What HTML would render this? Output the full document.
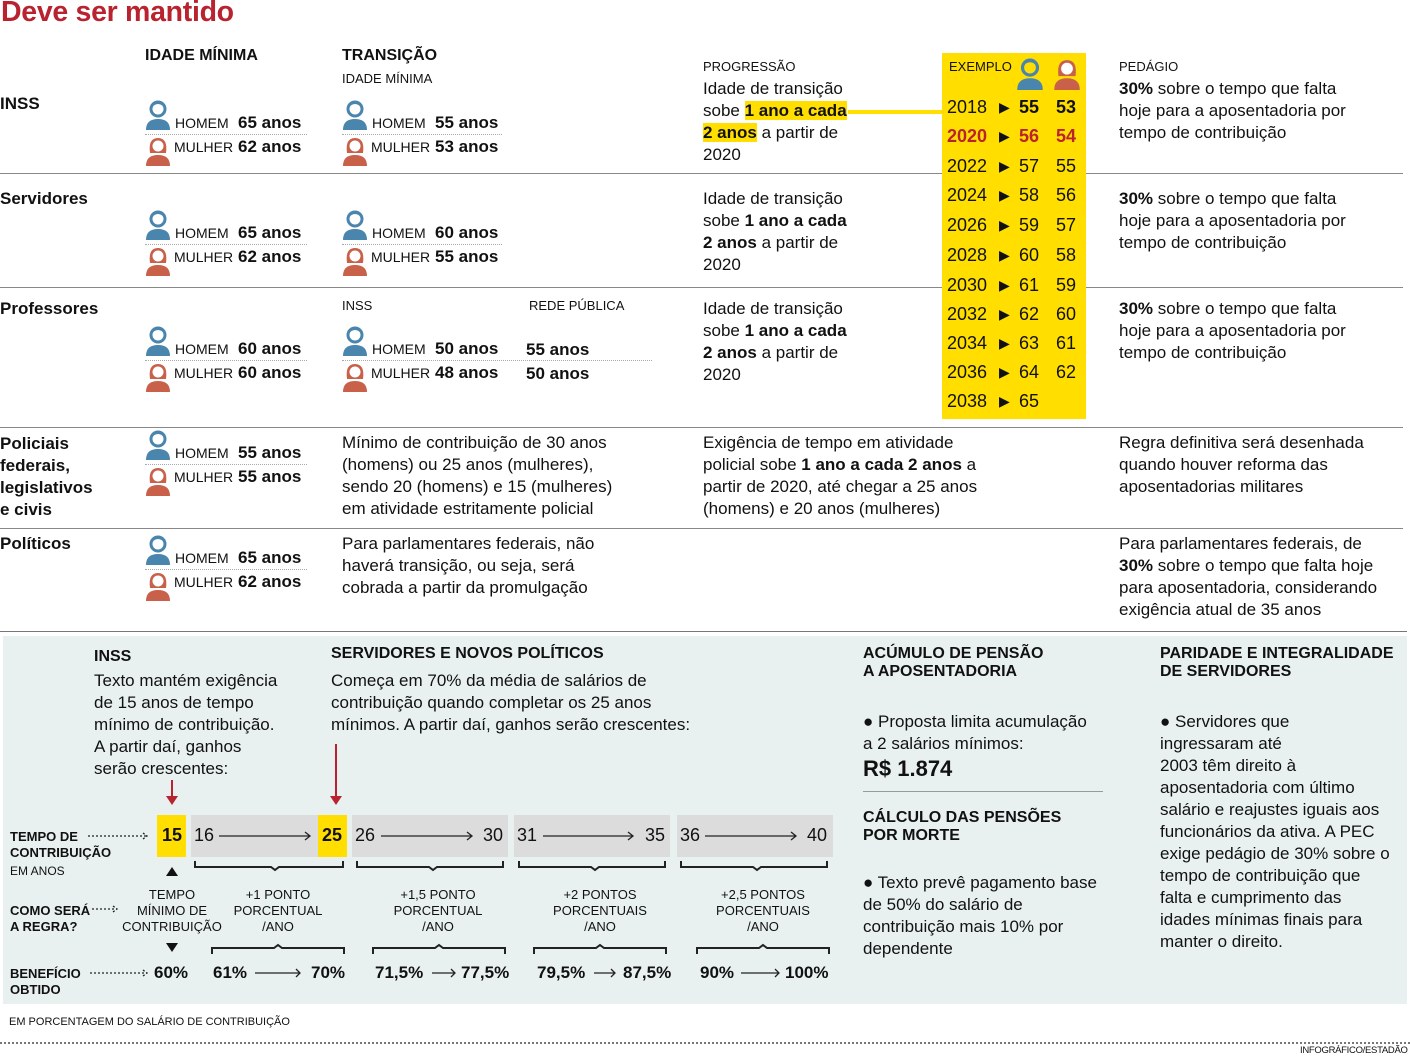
<!DOCTYPE html>
<html><head><meta charset="utf-8"><style>
*{margin:0;padding:0;box-sizing:border-box}
body{width:1410px;height:1056px;position:relative;background:#fff;font-family:"Liberation Sans",sans-serif;color:#111;overflow:hidden}
.a{position:absolute;white-space:nowrap}
.t{font-size:17px;line-height:22px}
.h{font-weight:bold;font-size:16px}
.s{font-size:13px}
.lab{font-size:14px}
.v{font-size:17px;font-weight:bold}
.hr{position:absolute;height:1px;background:#888}
.dot{position:absolute;height:0;border-top:1px dotted #aaa}
.yl{background:#ffde00}
.yr{position:absolute;font-size:18px;line-height:20px}
.box{position:absolute;background:#dcdcdc;height:42px;top:815px}
.c{text-align:center}
</style></head><body>
<svg width="0" height="0" style="position:absolute"><defs>
<symbol id="m" viewBox="0 0 26 30"><circle cx="13" cy="9" r="7" fill="none" stroke="#4a85ad" stroke-width="3"/><path d="M7 7 Q13 1 19 7 L19 4 Q13 -1 7 4Z" fill="#4a85ad"/><path d="M1 30 Q1 19 13 19 Q25 19 25 30Z" fill="#4a85ad"/></symbol>
<symbol id="w" viewBox="0 0 26 30"><path d="M5 17 Q3 2 13 2 Q23 2 21 17Z" fill="#c9604a"/><circle cx="13" cy="10" r="5.5" fill="#fff"/><path d="M1 30 Q1 19 13 19 Q25 19 25 30Z" fill="#c9604a"/></symbol>
</defs></svg>

<div class="a" style="left:1px;top:-4px;font-size:28.5px;font-weight:bold;color:#b8232f;letter-spacing:-0.3px">Deve ser mantido</div>

<div class="a h" style="left:145px;top:47px">IDADE MÍNIMA</div>
<div class="a h" style="left:342px;top:47px">TRANSIÇÃO</div>
<div class="a s" style="left:342px;top:71px">IDADE MÍNIMA</div>
<div class="a s" style="left:703px;top:59px">PROGRESSÃO</div>
<div class="a s" style="left:1119px;top:59px">PEDÁGIO</div>

<div class="a v" style="left:0;top:94px">INSS</div>
<div class="a v" style="left:0;top:189px">Servidores</div>
<div class="a v" style="left:0;top:299px">Professores</div>
<div class="a v" style="left:0;top:433px;line-height:22px">Policiais<br>federais,<br>legislativos<br>e civis</div>
<div class="a v" style="left:0;top:534px">Políticos</div>

<div class="hr" style="left:0;top:173px;width:1403px"></div>
<div class="hr" style="left:0;top:287px;width:1403px"></div>
<div class="hr" style="left:0;top:427px;width:1403px"></div>
<div class="hr" style="left:0;top:528px;width:1403px"></div>
<div class="hr" style="left:0;top:631px;width:1407px;background:#777"></div>

<div id="rows"></div>

<div class="a t" style="left:703px;top:78px">Idade de transição<br>sobe <span class="yl"><b>1 ano a cada</b></span><br><span class="yl"><b>2 anos</b></span> a partir de<br>2020</div>
<div class="a yl" style="left:848px;top:110px;width:96px;height:4px"></div>
<div class="a t" style="left:703px;top:188px">Idade de transição<br>sobe <b>1 ano a cada</b><br><b>2 anos</b> a partir de<br>2020</div>
<div class="a t" style="left:703px;top:298px">Idade de transição<br>sobe <b>1 ano a cada</b><br><b>2 anos</b> a partir de<br>2020</div>

<div class="a t" style="left:1119px;top:78px"><b>30%</b> sobre o tempo que falta<br>hoje para a aposentadoria por<br>tempo de contribuição</div>
<div class="a t" style="left:1119px;top:188px"><b>30%</b> sobre o tempo que falta<br>hoje para a aposentadoria por<br>tempo de contribuição</div>
<div class="a t" style="left:1119px;top:298px"><b>30%</b> sobre o tempo que falta<br>hoje para a aposentadoria por<br>tempo de contribuição</div>

<div class="a yl" style="left:942px;top:53px;width:144px;height:366px"></div>
<div class="a s" style="left:949px;top:59px">EXEMPLO</div>
<svg class="a" style="left:1016px;top:58px" width="28" height="32"><use href="#m"/></svg>
<svg class="a" style="left:1053px;top:58px" width="28" height="32"><use href="#w"/></svg>
<div id="yt"></div>

<div class="a s" style="left:342px;top:298px">INSS</div>
<div class="a s" style="left:529px;top:298px">REDE PÚBLICA</div>
<div class="a v" style="left:526px;top:340px">55 anos</div>
<div class="a v" style="left:526px;top:364px">50 anos</div>

<div class="a t" style="left:342px;top:432px">Mínimo de contribuição de 30 anos<br>(homens) ou 25 anos (mulheres),<br>sendo 20 (homens) e 15 (mulheres)<br>em atividade estritamente policial</div>
<div class="a t" style="left:703px;top:432px">Exigência de tempo em atividade<br>policial sobe <b>1 ano a cada 2 anos</b> a<br>partir de 2020, até chegar a 25 anos<br>(homens) e 20 anos (mulheres)</div>
<div class="a t" style="left:1119px;top:432px">Regra definitiva será desenhada<br>quando houver reforma das<br>aposentadorias militares</div>
<div class="a t" style="left:342px;top:533px">Para parlamentares federais, não<br>haverá transição, ou seja, será<br>cobrada a partir da promulgação</div>
<div class="a t" style="left:1119px;top:533px">Para parlamentares federais, de<br><b>30%</b> sobre o tempo que falta hoje<br>para aposentadoria, considerando<br>exigência atual de 35 anos</div>

<div class="a" style="left:3px;top:636px;width:1404px;height:368px;background:#e9f1f0"></div>
<div class="a h" style="left:94px;top:648px">INSS</div>
<div class="a t" style="left:94px;top:670px">Texto mantém exigência<br>de 15 anos de tempo<br>mínimo de contribuição.<br>A partir daí, ganhos<br>serão crescentes:</div>
<div class="a h" style="left:331px;top:645px">SERVIDORES E NOVOS POLÍTICOS</div>
<div class="a t" style="left:331px;top:670px">Começa em 70% da média de salários de<br>contribuição quando completar os 25 anos<br>mínimos. A partir daí, ganhos serão crescentes:</div>
<div class="a" style="left:171px;top:780px;width:2px;height:18px;background:#b8232f"></div>
<div class="a" style="left:166px;top:796px;border:6px solid transparent;border-top:9px solid #b8232f"></div>
<div class="a" style="left:335px;top:744px;width:2px;height:54px;background:#b8232f"></div>
<div class="a" style="left:330px;top:796px;border:6px solid transparent;border-top:9px solid #b8232f"></div>

<div class="a" style="left:157px;top:815px;width:29px;height:42px;background:#ffde00"></div>
<div class="box" style="left:191px;width:155px"></div>
<div class="a" style="left:318px;top:815px;width:29px;height:42px;background:#ffde00"></div>
<div class="box" style="left:352px;width:156px"></div>
<div class="box" style="left:514px;width:156px"></div>
<div class="box" style="left:677px;width:156px"></div>
<div class="a" style="left:162px;top:825px;font-size:18px;font-weight:bold">15</div>
<div class="a" style="left:322px;top:825px;font-size:18px;font-weight:bold">25</div>
<div class="a" style="left:194px;top:825px;font-size:18px">16</div>
<div class="a" style="left:355px;top:825px;font-size:18px">26</div><div class="a" style="left:483px;top:825px;font-size:18px">30</div>
<div class="a" style="left:517px;top:825px;font-size:18px">31</div><div class="a" style="left:645px;top:825px;font-size:18px">35</div>
<div class="a" style="left:680px;top:825px;font-size:18px">36</div><div class="a" style="left:807px;top:825px;font-size:18px">40</div>

<svg class="a" style="left:0;top:800px" width="860" height="200" fill="none" stroke="#222" stroke-width="1.3">
<path d="M219 36H310M305 32L310 36L305 40M381 36H472M467 32L472 36L467 40M543 36H633M628 32L633 36L628 40M705 36H796M791 32L796 36L791 40"/>
<path d="M88 36H147M143 33L147 36L143 39M92 109H117M113 106L117 109L113 112M90 173H147M143 170L147 173L143 176" stroke-dasharray="2 2"/>
<path d="M255 173H300M296 169L300 173L296 177M432 173H455M451 169L455 173L451 177M594 173H615M611 169L615 173L611 177M741 173H779M775 169L779 173L775 177"/>
<g stroke-width="2"><path d="M195 61v6h76l4 3l4-3h64v-6M357 61v6h72l4 3l4-3h66v-6M519 61v6h72l4 3l4-3h66v-6M681 61v6h72l4 3l4-3h66v-6"/>
<path d="M212 154v-6h62l4-3l4 3h62v6M373 154v-6h62l4-3l4 3h62v6M534 154v-6h62l4-3l4 3h62v6M697 154v-6h62l4-3l4 3h62v6"/></g>
<path d="M166 76l6-9l6 9ZM166 143l6 9l6-9Z" fill="#111" stroke="none"/>
</svg>
<div class="a" style="left:10px;top:829px;font-size:13px;font-weight:bold;line-height:16px">TEMPO DE<br>CONTRIBUIÇÃO</div>
<div class="a" style="left:10px;top:864px;font-size:12px">EM ANOS</div>
<div class="a" style="left:10px;top:903px;font-size:13px;font-weight:bold;line-height:16px">COMO SERÁ<br>A REGRA?</div>
<div class="a" style="left:10px;top:966px;font-size:13px;font-weight:bold;line-height:16px">BENEFÍCIO<br>OBTIDO</div>
<div class="a c" style="left:112px;top:887px;width:120px;font-size:13px;line-height:16px">TEMPO<br>MÍNIMO DE<br>CONTRIBUIÇÃO</div>
<div class="a c" style="left:218px;top:887px;width:120px;font-size:13px;line-height:16px">+1 PONTO<br>PORCENTUAL<br>/ANO</div>
<div class="a c" style="left:378px;top:887px;width:120px;font-size:13px;line-height:16px">+1,5 PONTO<br>PORCENTUAL<br>/ANO</div>
<div class="a c" style="left:540px;top:887px;width:120px;font-size:13px;line-height:16px">+2 PONTOS<br>PORCENTUAIS<br>/ANO</div>
<div class="a c" style="left:703px;top:887px;width:120px;font-size:13px;line-height:16px">+2,5 PONTOS<br>PORCENTUAIS<br>/ANO</div>
<div class="a v" style="left:154px;top:963px">60%</div>
<div class="a v" style="left:213px;top:963px">61%</div><div class="a v" style="left:311px;top:963px">70%</div>
<div class="a v" style="left:375px;top:963px">71,5%</div><div class="a v" style="left:461px;top:963px">77,5%</div>
<div class="a v" style="left:537px;top:963px">79,5%</div><div class="a v" style="left:623px;top:963px">87,5%</div>
<div class="a v" style="left:700px;top:963px">90%</div><div class="a v" style="left:785px;top:963px">100%</div>

<div class="a h" style="left:863px;top:645px;line-height:18px">ACÚMULO DE PENSÃO<br>A APOSENTADORIA</div>
<div class="a t" style="left:863px;top:711px">● Proposta limita acumulação<br>a 2 salários mínimos:</div>
<div class="a" style="left:863px;top:756px;font-size:22px;font-weight:bold">R$ 1.874</div>
<div class="a" style="left:863px;top:791px;width:240px;height:1px;background:#999"></div>
<div class="a h" style="left:863px;top:809px;line-height:18px">CÁLCULO DAS PENSÕES<br>POR MORTE</div>
<div class="a t" style="left:863px;top:872px">● Texto prevê pagamento base<br>de 50% do salário de<br>contribuição mais 10% por<br>dependente</div>
<div class="a h" style="left:1160px;top:645px;line-height:18px">PARIDADE E INTEGRALIDADE<br>DE SERVIDORES</div>
<div class="a t" style="left:1160px;top:711px">● Servidores que<br>ingressaram até<br>2003 têm direito à<br>aposentadoria com último<br>salário e reajustes iguais aos<br>funcionários da ativa. A PEC<br>exige pedágio de 30% sobre o<br>tempo de contribuição que<br>falta e cumprimento das<br>idades mínimas finais para<br>manter o direito.</div>

<div class="a" style="left:9px;top:1016px;font-size:11px">EM PORCENTAGEM DO SALÁRIO DE CONTRIBUIÇÃO</div>
<div class="a" style="left:0;top:1042px;width:1410px;border-top:2px dotted #777"></div>
<div class="a" style="left:1300px;top:1045px;font-size:9.5px;letter-spacing:-0.3px">INFOGRÁFICO/ESTADÃO</div>

<script>
var R=[[100,"65 anos","62 anos",145,162],[100,"55 anos","53 anos",342,160],[210,"65 anos","62 anos",145,162],[210,"60 anos","55 anos",342,160],[326,"60 anos","60 anos",145,162],[326,"50 anos","48 anos",342,310],[430,"55 anos","55 anos",145,162],[535,"65 anos","62 anos",145,162]];
var h="";
R.forEach(function(r){var y=r[0],x=r[3];
h+='<svg class="a" style="left:'+x+'px;top:'+y+'px" width="26" height="30"><use href="#m"/></svg>';
h+='<svg class="a" style="left:'+x+'px;top:'+(y+36)+'px" width="26" height="30"><use href="#w"/></svg>';
h+='<div class="a lab" style="left:'+(x+30)+'px;top:'+(y+15)+'px">HOMEM</div>';
h+='<div class="a lab" style="left:'+(x+29)+'px;top:'+(y+39)+'px">MULHER</div>';
h+='<div class="a v" style="left:'+(x+93)+'px;top:'+(y+13)+'px">'+r[1]+'</div>';
h+='<div class="a v" style="left:'+(x+93)+'px;top:'+(y+37)+'px">'+r[2]+'</div>';
h+='<div class="dot" style="left:'+x+'px;top:'+(y+34)+'px;width:'+r[4]+'px"></div>';});
document.getElementById("rows").innerHTML=h;
var Y=[[2018,55,53],[2020,56,54],[2022,57,55],[2024,58,56],[2026,59,57],[2028,60,58],[2030,61,59],[2032,62,60],[2034,63,61],[2036,64,62],[2038,65,""]];
var cy=[97,126,156,185,215,245,275,304,333,362,391],g="";
Y.forEach(function(r,i){var red=i==1?"color:#b8232f;font-weight:bold;":"";var b=i<2?"font-weight:bold;":"";
g+='<div class="yr" style="left:947px;top:'+cy[i]+'px;'+red+'">'+r[0]+'</div>';
g+='<div class="yr" style="left:999px;top:'+cy[i]+'px;font-size:14px">▶</div>';
g+='<div class="yr" style="left:1019px;top:'+cy[i]+'px;'+b+red+'">'+r[1]+'</div>';
g+='<div class="yr" style="left:1056px;top:'+cy[i]+'px;'+b+red+'">'+r[2]+'</div>';});
document.getElementById("yt").innerHTML=g;
</script>
</body></html>
